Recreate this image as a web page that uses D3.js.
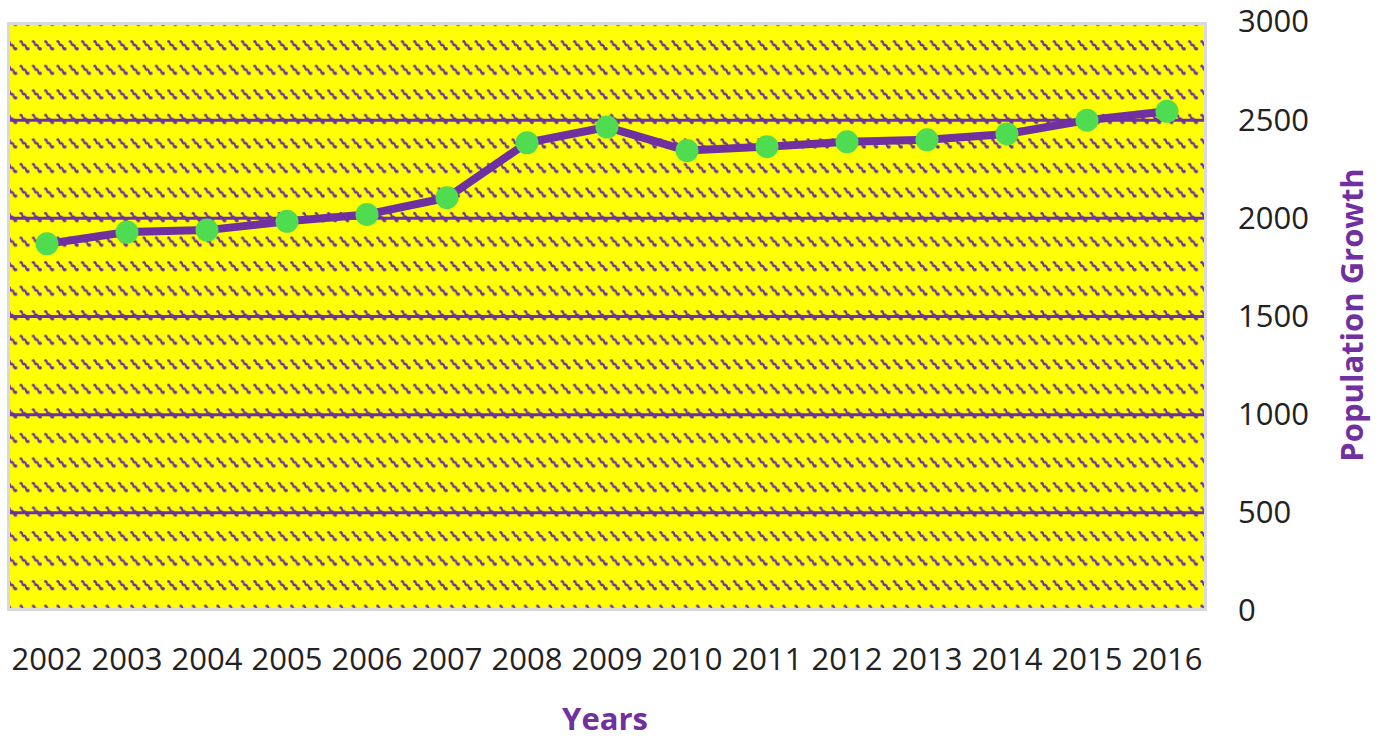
<!DOCTYPE html>
<html>
<head>
<meta charset="utf-8">
<script src="https://cdn.jsdelivr.net/npm/d3@7"></script>
<style>
  html, body { margin: 0; padding: 0; background: #fff; }
  svg { display: block; }
  text { font-family: "Open Sans", "Liberation Sans", sans-serif; }
</style>
</head>
<body>
<svg id="chart" width="1389" height="740"></svg>
<script>
// Population by year
const years = ["2002","2003","2004","2005","2006","2007","2008","2009","2010","2011","2012","2013","2014","2015","2016"];
const population = [1870, 1930, 1940, 1985, 2020, 2105, 2385, 2465, 2345, 2365, 2390, 2400, 2430, 2500, 2545];
const yTicks = [0, 500, 1000, 1500, 2000, 2500, 3000];
const gridValues = [500, 1000, 1500, 2000, 2500];

const purple = "#7030A0";
const green = "#50DC50";

const svg = d3.select("#chart");

const plot = { left: 7, right: 1207, top: 22, bottom: 611 };

const x = d3.scaleBand().domain(years).range([plot.left, plot.right]);
const y = d3.scaleLinear().domain([0, 3000]).range([plot.bottom, plot.top]);

// Wave hatch fill for the plot area
const rowGap = (y(0) - y(500)) / 4;
const colGap = 12.3;
const defs = svg.append("defs");
const pat = defs.append("pattern")
  .attr("id", "wave")
  .attr("patternUnits", "userSpaceOnUse")
  .attr("x", plot.left)
  .attr("y", y(3000) - rowGap / 2)
  .attr("width", colGap)
  .attr("height", rowGap);
pat.append("rect").attr("width", colGap).attr("height", rowGap).attr("fill", "#FFFF00");
const cy = rowGap / 2;
pat.append("path")
  .attr("d", `M1.5,${cy - 5} q1.5,0 1.5,1.8 t1.8,1.8 t1.8,1.8 t1.8,1.8`)
  .attr("fill", "none")
  .attr("stroke", purple)
  .attr("stroke-width", 1.9);
pat.append("circle").attr("cx", 1.6).attr("cy", cy - 5).attr("r", 1.4).attr("fill", purple);
pat.append("circle").attr("cx", 4.6).attr("cy", cy - 1.5).attr("r", 1.4).attr("fill", purple);
pat.append("circle").attr("cx", 8.5).attr("cy", cy + 2.2).attr("r", 1.8).attr("fill", purple);

// Plot area
svg.append("rect")
  .attr("x", plot.left + 1.5)
  .attr("y", plot.top + 1.5)
  .attr("width", plot.right - plot.left - 3)
  .attr("height", plot.bottom - plot.top - 3)
  .attr("fill", "url(#wave)")
  .attr("stroke", "#D9D9D9")
  .attr("stroke-width", 3);

// Horizontal gridlines
svg.append("g")
  .selectAll("line")
  .data(gridValues)
  .join("line")
  .attr("x1", plot.left + 3)
  .attr("x2", plot.right - 3)
  .attr("y1", d => y(d))
  .attr("y2", d => y(d))
  .attr("stroke", purple)
  .attr("stroke-width", 3);

// Y axis on the right
const yAxis = svg.append("g")
  .attr("transform", `translate(${plot.right},0)`)
  .call(d3.axisRight(y).tickValues(yTicks).tickFormat(d3.format("d")).tickSize(0).tickPadding(31));
yAxis.select(".domain").remove();
yAxis.selectAll("text")
  .attr("font-size", 31)
  .attr("font-family", "'Open Sans', sans-serif")
  .attr("fill", "#222");

// X axis
const xAxis = svg.append("g")
  .attr("transform", `translate(0,${plot.bottom})`)
  .call(d3.axisBottom(x).tickSize(0).tickPadding(37));
xAxis.select(".domain").remove();
xAxis.selectAll("text")
  .attr("font-size", 31)
  .attr("font-family", "'Open Sans', sans-serif")
  .attr("fill", "#222");

// Line and markers
const line = d3.line()
  .x((d, i) => x(years[i]) + x.bandwidth() / 2)
  .y(d => y(d));

svg.append("path")
  .datum(population)
  .attr("d", line)
  .attr("fill", "none")
  .attr("stroke", purple)
  .attr("stroke-width", 8)
  .attr("stroke-linejoin", "round")
  .attr("stroke-linecap", "round");

svg.append("g")
  .selectAll("circle")
  .data(population)
  .join("circle")
  .attr("cx", (d, i) => x(years[i]) + x.bandwidth() / 2)
  .attr("cy", d => y(d))
  .attr("r", 11.5)
  .attr("fill", green);

// Axis titles
svg.append("text")
  .attr("x", 605)
  .attr("y", 730)
  .attr("text-anchor", "middle")
  .attr("font-size", 31)
  .attr("font-weight", "bold")
  .attr("fill", purple)
  .text("Years");

svg.append("text")
  .attr("transform", "translate(1363,315) rotate(-90)")
  .attr("text-anchor", "middle")
  .attr("font-size", 31)
  .attr("font-weight", "bold")
  .attr("fill", purple)
  .text("Population Growth");
</script>
</body>
</html>
